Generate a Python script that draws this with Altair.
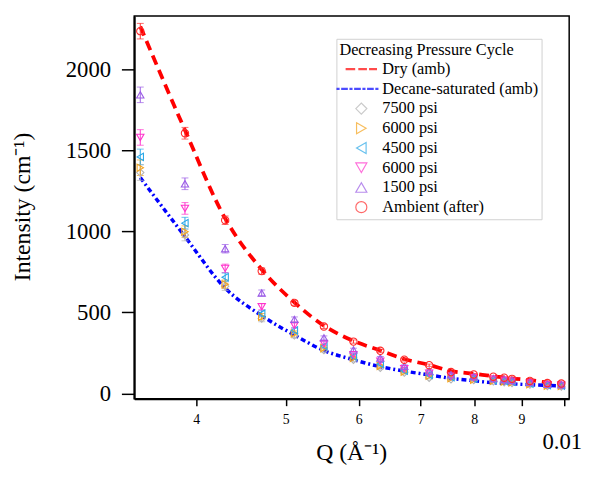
import altair as alt
import pandas as pd

# ---- data ----
Q = [0.00348, 0.00389, 0.00430, 0.00471, 0.00511, 0.00550, 0.00592, 0.00633, 0.00672,
     0.00715, 0.00755, 0.00799, 0.00839, 0.00862, 0.00879, 0.00919, 0.00960, 0.00994]

DRY = [2265, 1625, 1080, 765, 562, 418, 324, 265, 212, 176, 138, 122, 106, 99, 93, 82, 68, 62]
DECANE = [1332, 968, 650, 480, 360, 265, 208, 165, 138, 114, 93, 78, 66, 62, 59, 54, 49, 47]

P7500 = [1363, 978, 662, 462, 358, 267, 208, 158, 128, 97, 87, 82, 74, 69, 64, 54, 46, 43]
P6000 = [1393, 998, 674, 474, 371, 280, 219, 170, 134, 109, 94, 85, 78, 73, 68, 57, 48, 46]
P4500 = [1460, 1051, 717, 492, 389, 292, 228, 182, 140, 115, 100, 91, 82, 77, 72, 60, 51, 48]
P6000B = [1580, 1142, 772, 535, 419, 307, 239, 199, 152, 125, 106, 97, 87, 81, 76, 64, 54, 51]
P1500 = [1843, 1294, 893, 620, 457, 343, 269, 219, 168, 138, 115, 103, 92, 86, 80, 68, 57, 54]
AMBIENT = [2236, 1606, 1069, 755, 559, 413, 320, 263, 208, 174, 132, 117, 103, 97, 90, 77, 64, 61]

ERR = [48, 36, 26, 19, 15, 12, 10, 9, 8, 7, 6, 6, 5, 5, 5, 5, 5, 5]

KEYS = ["Dry (amb)", "Decane-saturated (amb)", "7500 psi", "6000 psi", "4500 psi",
        "6000 psi (2)", "1500 psi", "Ambient (after)"]
COLORS = ["#ff0000", "#0000ff", "#b4b4b4", "#f5a31a", "#2aa8e8", "#ff33cc", "#9b5ce6", "#ff2a2a"]

X_TICKS = [0.004, 0.005, 0.006, 0.007, 0.008, 0.009, 0.01]
Y_TICKS = [0, 500, 1000, 1500, 2000]


def bar_path(segments, half=0.1):
    return " ".join(f"M{a},{-half}H{b}V{half}H{a}Z" for a, b in segments)


DASH_SYMBOL = bar_path([(-2.74, -1.22), (-0.44, 0.91), (1.51, 2.74)])
DASHDOT_SYMBOL = bar_path([(-4.4, -4.05), (-3.55, -2.55), (-2.05, -1.7), (-1.2, -0.2),
                           (0.3, 0.65), (1.15, 2.15), (2.65, 3.0)])
SHAPES = [DASH_SYMBOL, DASHDOT_SYMBOL, "diamond", "triangle-right", "triangle-left",
          "triangle-down", "triangle-up", "circle"]

point_series = [("7500 psi", P7500), ("6000 psi", P6000), ("4500 psi", P4500),
                ("6000 psi (2)", P6000B), ("1500 psi", P1500), ("Ambient (after)", AMBIENT)]
color_of = dict(zip(KEYS, COLORS))

rows = []
for key, vals in point_series:
    for q, v, e in zip(Q, vals, ERR):
        rows.append({"Q": q, "I": v, "lo": v - e, "hi": v + e, "series": key, "col": color_of[key]})
pts = pd.DataFrame(rows)

dry_df = pd.DataFrame({"Q": Q, "I": DRY})
dec_df = pd.DataFrame({"Q": Q, "I": DECANE})

SERIF = "Liberation Serif"
x_scale = alt.Scale(type="log", domain=[0.003428, 0.010136], nice=False)
y_scale = alt.Scale(domain=[-33, 2329], nice=False, zero=False)

big = "datum.value > 0.0095"
x_axis = alt.Axis(
    title="Q (Å⁻¹)", values=X_TICKS, grid=False, labelFlush=False,
    labelExpr=f"{big} ? '0.01' : format(round(datum.value*1000), 'd')",
    labelFont=SERIF, labelColor="black",
    labelFontSize={"condition": {"test": big, "value": 23}, "value": 14},
    labelPadding={"condition": {"test": big, "value": 25}, "value": 7},
    labelOffset={"condition": {"test": big, "value": -2}, "value": 0},
    tickSize=7, tickColor="black", tickWidth=1.5, domainColor="black", domainWidth=2,
    titleFont=SERIF, titleFontSize=24, titleFontWeight="normal", titleColor="black",
    titleX=220, titleY=62, titleBaseline="alphabetic",
)
y_axis = alt.Axis(
    title="Intensity (cm⁻¹)", values=Y_TICKS, grid=False, labelFlush=False, format="d",
    labelFont=SERIF, labelFontSize=23, labelColor="black", labelPadding=11,
    tickSize=13, tickColor="black", tickWidth=1.5, domainColor="black", domainWidth=2,
    titleFont=SERIF, titleFontSize=24, titleFontWeight="normal", titleColor="black",
    titleX=-106, titleY=193, titleBaseline="alphabetic",
)


def X():
    return alt.X("Q:Q", scale=x_scale, axis=x_axis)


def Y(field):
    return alt.Y(field, scale=y_scale, axis=y_axis)


legend = alt.Legend(
    title="Decreasing Pressure Cycle", orient="none", legendX=205, legendY=23,
    titleFont=SERIF, titleFontSize=16.5, titleFontWeight="normal", titleColor="black",
    titlePadding=3, titleLimit=400,
    labelFont=SERIF, labelFontSize=16.5, labelColor="black", labelLimit=300,
    labelExpr="replace(datum.label, ' (2)', '')",
    symbolSize=125, symbolStrokeWidth=1.2, symbolOffset=14, labelOffset=13,
    rowPadding=3.0, padding=3, strokeColor="#d0d0d0", fillColor="white",
)

dry = alt.Chart(dry_df).mark_line(color="#ff0000", strokeWidth=3.8, strokeDash=[10, 6],
                                  interpolate="monotone").encode(x=X(), y=Y("I:Q"))
dec = alt.Chart(dec_df).mark_line(color="#0000ff", strokeWidth=3.5, strokeDash=[5, 3, 2, 3],
                                  interpolate="monotone").encode(x=X(), y=Y("I:Q"))

err = alt.Chart(pts).mark_rule(strokeWidth=1).encode(
    x=X(), y=Y("lo:Q"), y2="hi:Q", color=alt.Color("col:N", scale=None))
cap_lo = alt.Chart(pts).mark_tick(orient="horizontal", size=7, thickness=1).encode(
    x=X(), y=Y("lo:Q"), color=alt.Color("col:N", scale=None))
cap_hi = alt.Chart(pts).mark_tick(orient="horizontal", size=7, thickness=1).encode(
    x=X(), y=Y("hi:Q"), color=alt.Color("col:N", scale=None))

points = alt.Chart(pts).mark_point(filled=False, size=55, strokeWidth=1.1, opacity=1).encode(
    x=X(), y=Y("I:Q"),
    color=alt.Color("series:N", scale=alt.Scale(domain=KEYS, range=COLORS), legend=legend),
    shape=alt.Shape("series:N", scale=alt.Scale(domain=KEYS, range=SHAPES), legend=legend),
)

chart = alt.layer(dry, dec, err, cap_lo, cap_hi, points).properties(
    width=441, height=388,
    autosize=alt.AutoSizeParams(type="none"),
    padding={"left": 128, "top": 5, "right": 13, "bottom": 68},
    background="white",
).configure_view(stroke="black", strokeWidth=1.5).configure_legend(labelFont=SERIF)

chart.save("out.html", embed_options={"renderer": "svg", "actions": False})
